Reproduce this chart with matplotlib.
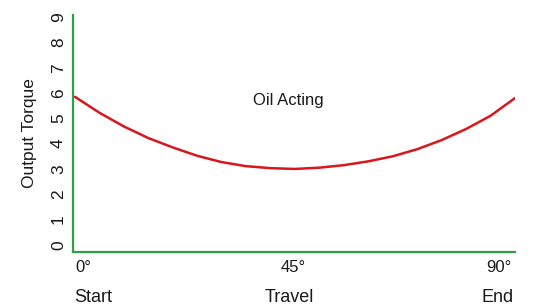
import matplotlib
matplotlib.use("Agg")
import matplotlib.pyplot as plt
from matplotlib.transforms import blended_transform_factory, offset_copy

plt.rcParams['font.family'] = ['Liberation Sans', 'DejaVu Sans']

# curve: travel in degrees, output torque
travel = [0, 5, 10, 15, 20, 25, 30, 35, 40, 45, 50, 55, 60, 65, 70, 75, 80, 85, 90]
torque = [5.85, 5.22, 4.68, 4.22, 3.85, 3.52, 3.27, 3.11, 3.03, 3.0, 3.05, 3.15, 3.3, 3.5, 3.78, 4.14, 4.58, 5.1, 5.8]

yticks = list(range(10))
xtick_pos = [0, 45, 90]
xtick_labels = ["0°", "45°", "90°"]
stage_labels = ["Start", "Travel", "End"]

red = "#d8161c"
green = "#2f9e44"
ink = "#1a1a1a"

fig = plt.figure(figsize=(5.37, 3.08), dpi=100)
ax = fig.add_axes([0.136, 0.182, 0.823, 0.769])

ax.plot(travel, torque, color=red, lw=1.8, solid_capstyle='round', solid_joinstyle='round')

ax.set_xlim(-0.4, 90)
ax.set_ylim(-0.28, 9.08)

for s in ['top', 'right']:
    ax.spines[s].set_visible(False)
for s in ['left', 'bottom']:
    ax.spines[s].set_color(green)
    ax.spines[s].set_linewidth(1.6)

ax.set_yticks(yticks)
ax.set_yticklabels([str(v) for v in yticks], rotation=90, va='center', fontsize=12.5, color=ink)
ax.tick_params(axis='y', length=0, pad=5)
ax.set_xticks([])
ax.set_ylabel("Output Torque", fontsize=12.5, labelpad=10, color=ink)

# bottom labels, positioned under the axis
trans = blended_transform_factory(ax.transData, ax.transAxes)
ha = ['left', 'center', 'right']
for pos, lab, h, d in zip(xtick_pos, xtick_labels, ha, [0, -2, -3]):
    t1 = offset_copy(trans, fig=fig, x=d, y=-16, units='dots')
    ax.text(pos, 0, lab, transform=t1, ha=h, va='center', fontsize=12, color=ink)
for pos, stage, h, d in zip(xtick_pos, stage_labels, ha, [-1, -6, -1]):
    t2 = offset_copy(trans, fig=fig, x=d, y=-46, units='dots')
    ax.text(pos, 0, stage, transform=t2, ha=h, va='center', fontsize=13, color=ink)

ax.text(43.6, 5.72, "Oil Acting", ha='center', va='center', fontsize=12, color=ink)

fig.savefig("out.png", dpi=100)
